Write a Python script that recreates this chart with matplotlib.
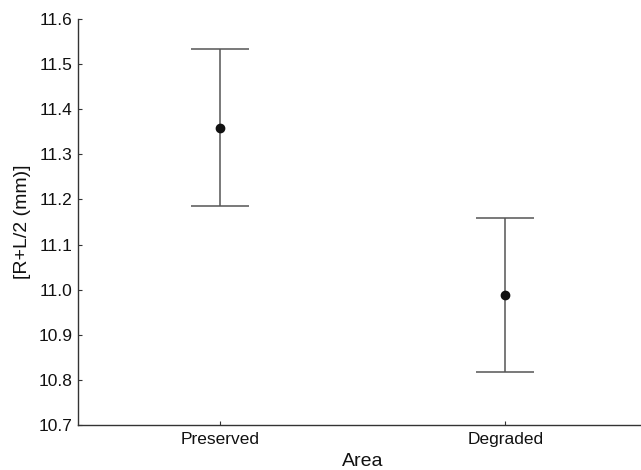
import matplotlib
matplotlib.use("Agg")
import matplotlib.pyplot as plt

# group means and error limits
areas = ["Preserved", "Degraded"]
means = [11.359, 10.988]
upper = [11.533, 11.159]
lower = [11.186, 10.817]

plt.rcParams['font.family'] = ['Liberation Sans', 'DejaVu Sans']

fig = plt.figure(figsize=(6.41, 4.70), dpi=100)
# axes runs a little past the right edge of the figure, as in the original crop
ax = fig.add_axes([0.1212, 0.0957, 0.8897, 0.8638])

xpos = [1, 2]
err_lo = [m - l for m, l in zip(means, lower)]
err_hi = [u - m for m, u in zip(means, upper)]
ax.errorbar(xpos, means, yerr=[err_lo, err_hi], fmt='o', color='#111111',
            markersize=6, ecolor='#555555', elinewidth=1.1, capsize=21,
            capthick=1.1, zorder=3)

ax.set_xlim(0.5, 2.5)
ax.set_ylim(10.7, 11.6)
ax.set_xticks(xpos)
ax.set_xticklabels(areas)
ax.set_yticks([10.7 + 0.1 * i for i in range(10)])
ax.set_yticklabels([f"{10.7 + 0.1 * i:.1f}" for i in range(10)])

for side in ['top', 'right']:
    ax.spines[side].set_visible(False)
for side in ['left', 'bottom']:
    ax.spines[side].set_color('#333333')
    ax.spines[side].set_linewidth(1.0)

ax.tick_params(direction='in', length=3, width=0.8, color='#333333',
               labelsize=12.5, labelcolor='#111111')
ax.tick_params(axis='x', pad=5)
ax.tick_params(axis='y', pad=4)

ax.set_xlabel("Area", fontsize=14, labelpad=4.5, color='#111111')
ax.set_ylabel("[R+L/2 (mm)]", fontsize=14, labelpad=5, color='#111111')

fig.savefig("out.png", dpi=100)
